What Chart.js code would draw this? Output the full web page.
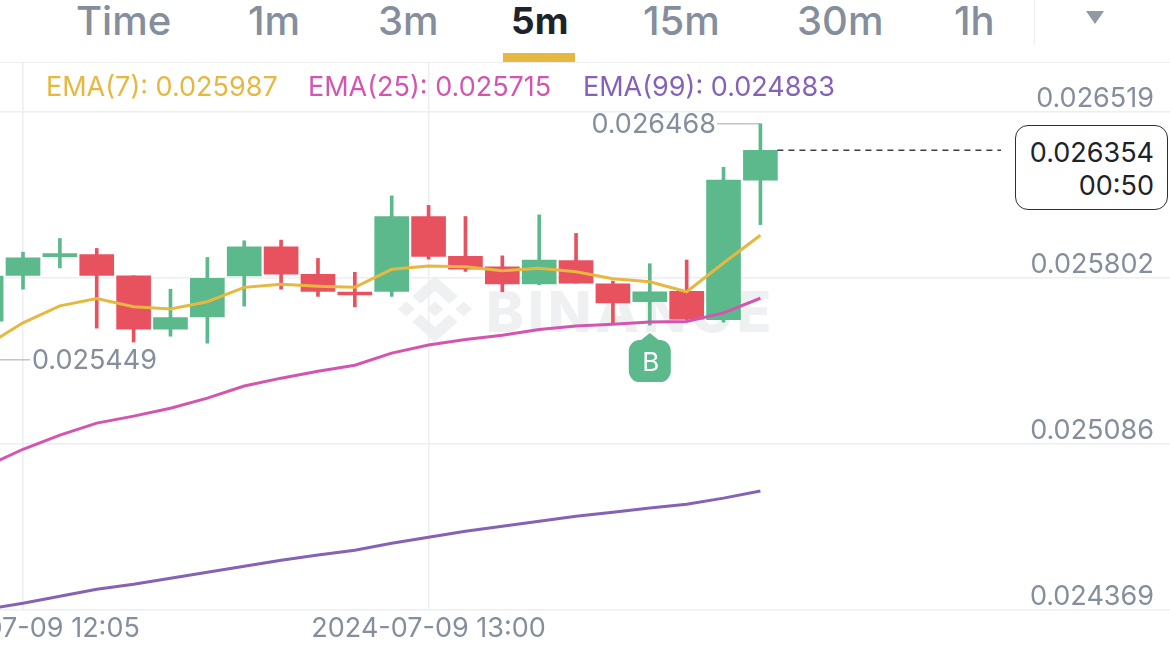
<!DOCTYPE html>
<html>
<head>
<meta charset="utf-8">
<title>5m chart</title>
<script src="https://cdn.jsdelivr.net/npm/chart.js@4"></script>
<style>
    html, body { margin: 0; padding: 0; background: #fff; }
    #page { position: relative; width: 1170px; height: 658px; overflow: hidden; font-family: Inter, sans-serif; }
    #page > * { position: absolute; }
    canvas { left: 0; top: 0; }
    .tab { top: -3px; line-height: 48px; font-size: 40px; font-weight: 500; color: #848e9c; white-space: nowrap; }
    .tab.active { color: #1e2329; font-size: 37px; font-weight: 700; }
    .ema { top: 72px; line-height: 30px; font-size: 27px; white-space: nowrap; }
    #underline { left: 503px; top: 53px; width: 72px; height: 9px; background: #e7b83f; }
    #headerLine { left: 0; top: 62px; width: 1170px; height: 1px; background: #eceef1; }
    #tabDivider { left: 1034px; top: 0; width: 1px; height: 45px; background: #eceef1; }
    #moreArrow { left: 1086px; top: 11px; width: 0; height: 0; border-left: 9.5px solid transparent; border-right: 9.5px solid transparent; border-top: 13px solid #9199a5; }
    #priceBox { left: 1015px; top: 125px; width: 151px; height: 83px; border: 1.5px solid #2b3036; border-radius: 13px; background: #fff; color: #1e2329; font-size: 27px; line-height: 33px; text-align: right; z-index: 2; }
    #priceBox div { padding-right: 13px; }
    #priceBox div:first-child { padding-top: 10px; }
    #wmText { left: 486px; top: 277px; font-size: 57px; line-height: 70px; font-weight: 800; letter-spacing: 3.8px; color: #eff0f1; }
    #wmLogo { left: 398px; top: 276px; width: 74px; height: 66px; }
</style>
</head>
<body>
<div id="page">
    <div class="tab" style="left:76px">Time</div>
    <div class="tab" style="left:248px">1m</div>
    <div class="tab" style="left:378px">3m</div>
    <div class="tab active" style="left:511px">5m</div>
    <div class="tab" style="left:643px">15m</div>
    <div class="tab" style="left:797px">30m</div>
    <div class="tab" style="left:954px">1h</div>
    <div id="tabDivider"></div>
    <div id="moreArrow"></div>
    <div id="underline"></div>
    <div id="headerLine"></div>
    <svg id="wmLogo" viewBox="0 0 126.61 126.61" preserveAspectRatio="none" fill="#eff0f1">
        <polygon points="38.73,53.2 63.31,28.63 87.9,53.22 102.2,38.92 63.31,0 24.43,38.9"/>
        <polygon points="0,63.31 14.3,49.01 28.6,63.31 14.3,77.61"/>
        <polygon points="48.99,63.3 63.31,48.98 77.63,63.3 63.31,77.62"/>
        <polygon points="87.9,73.4 63.31,97.98 38.73,73.41 24.41,87.7 63.31,126.61 102.2,87.7"/>
        <polygon points="98,63.31 112.3,49.01 126.6,63.31 112.3,77.61"/>
    </svg>
    <div id="wmText">BINANCE</div>
    <canvas id="klineChart" width="1170" height="658"></canvas>
    <div class="ema" style="left:46px;color:#e7b83f">EMA(7): 0.025987</div>
    <div class="ema" style="left:308px;color:#d355b0">EMA(25): 0.025715</div>
    <div class="ema" style="left:583px;color:#8562b5">EMA(99): 0.024883</div>
    <div id="priceBox"><div>0.026354</div><div>00:50</div></div>
</div>
<script>
const candleTimes = ['2024-07-09 12:00', '2024-07-09 12:05', '2024-07-09 12:10', '2024-07-09 12:15', '2024-07-09 12:20', '2024-07-09 12:25',
    '2024-07-09 12:30', '2024-07-09 12:35', '2024-07-09 12:40', '2024-07-09 12:45', '2024-07-09 12:50', '2024-07-09 12:55',
    '2024-07-09 13:00', '2024-07-09 13:05', '2024-07-09 13:10', '2024-07-09 13:15', '2024-07-09 13:20', '2024-07-09 13:25',
    '2024-07-09 13:30', '2024-07-09 13:35', '2024-07-09 13:40', '2024-07-09 13:45'];

const opens = [0.025616, 0.025814, 0.025894, 0.025904, 0.025812, 0.025582, 0.025634, 0.025811, 0.025937, 0.025818, 0.025742,
    0.025745, 0.026068, 0.025896, 0.025851, 0.025777, 0.025878, 0.025777, 0.025700, 0.025745, 0.025622, 0.026225];
const closes = [0.025811, 0.025890, 0.025908, 0.025814, 0.025582, 0.025632, 0.025801, 0.025937, 0.025819, 0.025745, 0.025729,
    0.026068, 0.025896, 0.025841, 0.025777, 0.025880, 0.025780, 0.025695, 0.025743, 0.025625, 0.026225, 0.026354];
const highs = [0.025830, 0.025914, 0.025973, 0.025930, 0.025812, 0.025754, 0.025891, 0.025963, 0.025966, 0.025887, 0.025827,
    0.026157, 0.026116, 0.026068, 0.025898, 0.026075, 0.025995, 0.025789, 0.025864, 0.025880, 0.026280, 0.026468];
const lows = [0.025580, 0.025754, 0.025846, 0.025586, 0.025526, 0.025551, 0.025521, 0.025681, 0.025754, 0.025723, 0.025678,
    0.025723, 0.025884, 0.025831, 0.025743, 0.025773, 0.025780, 0.025602, 0.025599, 0.025621, 0.025612, 0.026033];

const ema7 = [0.025510, 0.025609, 0.025682, 0.025714, 0.025678, 0.025669, 0.025700, 0.025762, 0.025775, 0.025767, 0.025762,
    0.025840, 0.025854, 0.025851, 0.025834, 0.025844, 0.025829, 0.025799, 0.025786, 0.025743, 0.025867, 0.025987];
const ema25 = [0.024990, 0.025063, 0.025124, 0.025176, 0.025206, 0.025240, 0.025284, 0.025336, 0.025370, 0.025400, 0.025426,
    0.025478, 0.025513, 0.025537, 0.025555, 0.025580, 0.025595, 0.025603, 0.025612, 0.025615, 0.025652, 0.025715];
const ema99 = [0.024372, 0.024398, 0.024428, 0.024459, 0.024480, 0.024506, 0.024532, 0.024558, 0.024584, 0.024606, 0.024627,
    0.024657, 0.024683, 0.024709, 0.024731, 0.024752, 0.024774, 0.024791, 0.024809, 0.024826, 0.024852, 0.024883];

const priceTicks = [0.026519, 0.025802, 0.025086, 0.024369];
const timeTicks = [1, 12];
const lastPrice = 0.026354;
const visibleHigh = 0.026468;
const visibleLow = 0.025449;
const buyIndex = 18;

const GREEN = '#5cb98b';
const RED = '#e8525f';
const candleColors = opens.map((o, i) => (closes[i] >= o ? GREEN : RED));

const toLine = (values) => values.map((y, x) => ({ x, y }));

// Price line, high/low labels and the buy marker
const overlays = {
    id: 'overlays',
    afterDatasetsDraw(chart) {
        const { ctx, scales: { x, y } } = chart;
        const lastX = x.getPixelForValue(opens.length - 1);
        ctx.save();

        // current price
        ctx.strokeStyle = '#3a3f45';
        ctx.lineWidth = 1.5;
        ctx.setLineDash([6, 5]);
        ctx.beginPath();
        ctx.moveTo(lastX + 17, y.getPixelForValue(lastPrice));
        ctx.lineTo(1001, y.getPixelForValue(lastPrice));
        ctx.stroke();
        ctx.setLineDash([]);

        // visible high / low
        ctx.font = '27px Inter';
        ctx.textBaseline = 'middle';
        ctx.fillStyle = '#848e9c';
        ctx.strokeStyle = '#a0a6af';
        ctx.lineWidth = 1;
        const highY = y.getPixelForValue(visibleHigh);
        ctx.beginPath();
        ctx.moveTo(717, highY);
        ctx.lineTo(lastX, highY);
        ctx.stroke();
        ctx.textAlign = 'right';
        ctx.fillText(visibleHigh.toFixed(6), 716, highY + 1);
        const lowY = y.getPixelForValue(visibleLow);
        ctx.beginPath();
        ctx.moveTo(0, lowY);
        ctx.lineTo(30, lowY);
        ctx.stroke();
        ctx.textAlign = 'left';
        ctx.fillText(visibleLow.toFixed(6), 32, lowY + 1);

        // buy marker under its candle
        const buyX = x.getPixelForValue(buyIndex);
        const tipY = y.getPixelForValue(lows[buyIndex]) + 8;
        ctx.fillStyle = GREEN;
        ctx.beginPath();
        ctx.roundRect(buyX - 21, tipY + 7, 42, 42, 11);
        ctx.fill();
        ctx.beginPath();
        ctx.moveTo(buyX, tipY);
        ctx.lineTo(buyX + 10, tipY + 8);
        ctx.lineTo(buyX - 10, tipY + 8);
        ctx.closePath();
        ctx.fill();
        ctx.fillStyle = '#fff';
        ctx.font = '26px Inter';
        ctx.textAlign = 'center';
        ctx.fillText('B', buyX + 1, tipY + 30);
        ctx.restore();
    }
};

new Chart(document.getElementById('klineChart'), {
    type: 'bar',
    data: {
        datasets: [
            { type: 'line', label: 'EMA(7)', data: toLine(ema7), borderColor: '#e7b83f', borderWidth: 3, pointRadius: 0, order: 1 },
            { type: 'line', label: 'EMA(25)', data: toLine(ema25), borderColor: '#d355b0', borderWidth: 3, pointRadius: 0, order: 2 },
            { type: 'line', label: 'EMA(99)', data: toLine(ema99), borderColor: '#8562b5', borderWidth: 3, pointRadius: 0, order: 3 },
            {
                label: 'Body',
                data: opens.map((o, i) => ({ x: i, y: [o, closes[i]] })),
                backgroundColor: candleColors,
                barThickness: 34,
                grouped: false,
                order: 4
            },
            {
                label: 'Wick',
                data: lows.map((l, i) => ({ x: i, y: [l, highs[i]] })),
                backgroundColor: candleColors,
                barThickness: 3,
                grouped: false,
                order: 5
            }
        ]
    },
    options: {
        responsive: false,
        animation: false,
        events: [],
        layout: { autoPadding: false, padding: { top: 62, left: 0, right: 0, bottom: 0 } },
        plugins: { legend: { display: false }, tooltip: { enabled: false } },
        scales: {
            x: {
                type: 'linear',
                offset: false,
                min: 0.3762,
                max: 32.109,
                afterBuildTicks: (scale) => { scale.ticks = timeTicks.map((value) => ({ value })); },
                afterFit: (scale) => {
                    scale.height = 48;
                    scale.paddingLeft = 0;
                    scale.paddingRight = 0;
                },
                grid: { offset: false, color: '#eceef1', lineWidth: 1.5, drawTicks: false },
                border: { display: false },
                ticks: {
                    autoSkip: false,
                    maxRotation: 0,
                    padding: 3,
                    color: '#848e9c',
                    font: { family: 'Inter', size: 27 },
                    callback: (value) => candleTimes[value]
                }
            },
            y: {
                position: 'right',
                min: 0.024369,
                max: 0.026735,
                afterBuildTicks: (scale) => { scale.ticks = priceTicks.map((value) => ({ value })); },
                afterFit: (scale) => {
                    scale.width = 0;
                    scale.paddingTop = 0;
                    scale.paddingBottom = 0;
                },
                grid: { color: '#eceef1', lineWidth: 1.5, drawTicks: false },
                border: { display: false },
                ticks: {
                    mirror: true,
                    autoSkip: false,
                    padding: -16,
                    color: '#848e9c',
                    font: { family: 'Inter', size: 27, lineHeight: 0.95 },
                    // empty second line lifts the label above its grid line
                    callback: (value) => [value.toFixed(6), '']
                }
            }
        }
    },
    plugins: [overlays]
});
</script>
</body>
</html>
